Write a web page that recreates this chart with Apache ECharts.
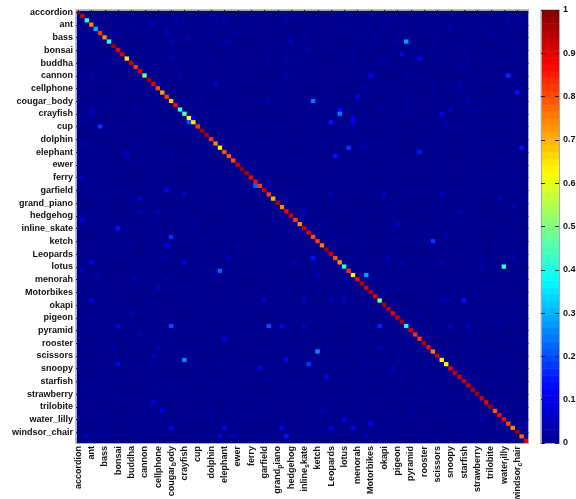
<!DOCTYPE html>
<html><head><meta charset="utf-8">
<style>html,body{margin:0;padding:0;background:#fff}#c{width:576px;height:499px;filter:blur(0.55px)}</style>
<script src="https://cdn.jsdelivr.net/npm/echarts@6/dist/echarts.min.js"></script>
</head><body><div id="c"></div>
<script>
const tickLabels = ['accordion','ant','bass','bonsai','buddha','cannon','cellphone','cougar_body','crayfish','cup','dolphin','elephant','ewer','ferry','garfield','grand_piano','hedgehog','inline_skate','ketch','Leopards','lotus','menorah','Motorbikes','okapi','pigeon','pyramid','rooster','scissors','snoopy','starfish','strawberry','trilobite','water_lilly','windsor_chair'];
const diagonal = [.98,.92,.42,.75,.3,.82,.74,.42,.97,.9,.9,.65,.93,.82,.92,.5,.97,.9,.8,.72,.82,.68,.87,.42,.47,.63,.65,.82,.97,.96,.83,.75,.64,.8,.79,.8,.92,.98,.96,.89,.87,.82,.93,.82,.7,.95,.74,.88,.92,.82,.74,
.92,.9,.8,.82,.76,.96,.92,.8,.74,.43,.83,.64,.88,.95,.92,.95,.9,.5,.96,.95,.9,.93,.97,.38,.92,.83,.83,.95,.88,.76,.94,.64,.63,.9,.93,.92,.92,.92,.95,.97,.92,.89,.96,.79,.88,.88,.81,.75,.97,.78,.9];
// [row, column, value]
const confusions = [
[54,80,.18],[62,65,.28],[60,96,.42],[58,53,.14],[80,54,.26],[83,52,.18],[74,68,.16],[68,87,.14],[96,60,.12],[97,66,.12],[98,57,.1],[98,62,.1],[86,56,.1],[84,71,.06],[68,51,.05],[68,57,.05],[68,60,.05],[68,82,.025],[68,83,.025],[71,51,.025],[74,51,.05],[74,84,.06],[74,88,.07],[79,68,.05],[58,70,.05],[59,73,.035],[59,82,.035],[60,91,.035],[58,98,.035],[57,98,.025],[55,94,.035],[52,57,.02],[53,58,.025],[55,64,.02],[52,83,.025],[53,83,.025],[60,54,.025],[62,54,.05],[94,55,.05],[94,75,.025],[96,91,.05],[97,101,.05],[100,65,.05],[83,65,.015],[83,67,.015],[83,68,.015],[72,77,.02],[65,70,.02],[65,72,.02],[65,86,.02],[73,95,.02],[80,64,.02],[80,75,.02],[85,73,.015],[88,77,.015],[97,84,.015],
[7,74,.28],[21,53,.24],[24,59,.24],[23,59,.12],[26,57,.14],[25,62,.1],[26,62,.1],[32,61,.18],[34,58,.14],[33,77,.14],[32,100,.14],[15,97,.16],[19,99,.14],[11,77,.12],[10,73,.1],[15,66,.11],[20,63,.1],[24,82,.1],[23,84,.06],[43,57,.06],[43,69,.05],[43,82,.05],[44,95,.05],[46,98,.05],[47,51,.05],[50,72,.06],[47,86,.035],[7,67,.025],[5,67,.025],[5,64,.025],[7,72,.025],[2,73,.02],[2,70,.02],[3,70,.02],[2,69,.02],[2,66,.02],[3,59,.025],[5,80,.025],[4,84,.035],[3,92,.025],[5,94,.025],[2,97,.025],[2,100,.035],[11,62,.035],[11,69,.025],[11,88,.025],[13,87,.025],[15,74,.025],[15,76,.025],[17,80,.035],[18,65,.035],[17,86,.025],[18,86,.025],[18,84,.015],[21,88,.035],[21,74,.025],[23,74,.025],[24,74,.025],[23,68,.02],[23,88,.02],[23,90,.02],[23,92,.02],[26,83,.025],[27,83,.025],[31,65,.025],[32,64,.025],[32,65,.025],[35,51,.035],[9,52,.025],[7,51,.025],
[27,5,.18],[49,1,.11],[3,17,.06],[2,22,.025],[3,22,.025],[2,16,.02],[2,19,.02],[3,24,.025],[2,31,.025],[2,33,.025],[3,33,.025],[2,47,.025],[4,20,.035],[5,20,.035],[5,8,.025],[4,12,.015],[5,36,.025],[7,21,.05],[6,25,.035],[6,30,.025],[7,33,.035],[7,34,.035],[7,48,.06],[11,21,.035],[11,30,.025],[11,43,.025],[11,47,.025],[11,49,.025],[15,1,.025],[15,3,.025],[15,23,.025],[15,47,.025],[15,49,.025],[17,31,.06],[18,29,.025],[21,28,.025],[21,43,.035],[22,7,.015],[23,3,.035],[24,3,.035],[23,13,.025],[31,1,.025],[31,2,.025],[31,13,.025],[33,11,.05],[34,11,.05],[33,19,.02],[33,21,.02],[34,21,.02],[35,14,.025],[39,1,.05],[42,20,.1],[43,24,.06],[40,43,.035],[41,43,.035],[44,14,.08],[44,12,.02],[44,5,.02],[44,47,.035],[47,14,.05],[47,18,.035],[50,26,.035],[26,25,.2],[25,26,.12],[41,40,.22],
[51,9,.14],[52,9,.025],[53,21,.17],[55,20,.12],[55,36,.035],[55,12,.02],[58,34,.05],[58,19,.02],[58,20,.02],[59,3,.12],[59,24,.11],[59,49,.05],[61,1,.05],[62,4,.035],[61,32,.22],[62,31,.025],[63,13,.05],[63,20,.035],[65,18,.05],[68,3,.1],[68,42,.06],[67,5,.015],[71,12,.035],[74,9,.12],[74,21,.2],[74,43,.2],[74,46,.1],[76,14,.035],[77,33,.1],[76,35,.015],[77,21,.015],[79,8,.035],[79,18,.05],[81,17,.05],[82,24,.26],[82,47,.13],[83,26,.02],[83,32,.015],[83,9,.11],[84,41,.1],[88,1,.015],[88,21,.015],[89,17,.015],[91,9,.015],[92,9,.015],[92,17,.1],[94,19,.1],[94,30,.015],[95,29,.015],[94,34,.015],[97,15,.015],[97,19,.015],[98,21,.11],[98,33,.1],[98,46,.1],[100,2,.05],[100,32,.08],[100,35,.06],[100,47,.14]
];
const colorbarLevels = 64;
const jet = ['#00008f','#0000ff','#0080ff','#00ffff','#80ff80','#ffff00','#ff8000','#ff0000','#800000'];

const size = tickLabels.length * 3;
const categories = [];
for (let i = 0; i < size; i++) categories.push(i % 3 === 0 ? tickLabels[i / 3] : '');
const lookup = new Map(confusions.map(c => [c[0] * size + c[1], c[2]]));
const cells = [];
for (let r = 0; r < size; r++) for (let c = 0; c < size; c++) {
  cells.push([c, r, r === c ? diagonal[r] : (lookup.get(r * size + c) || 0)]);
}
const barCats = [], barCells = [];
for (let i = 0; i < colorbarLevels; i++) { barCats.push(String(i)); barCells.push([0, i, (i + .5) / colorbarLevels]); }

const font = 'Liberation Sans';
const txt = '#111';
const fs = 9;
const frame = '#a4a8b8';
const tick = {show:true, inside:true, length:3, interval:2, alignWithLabel:true, lineStyle:{color:'#10104a', width:1}};
function sub(name){
  const k = name.indexOf('_');
  if (k < 0) return '{a|' + name + '}';
  return '{a|' + name.slice(0,k) + '}{s|' + name[k+1] + '}{a|' + name.slice(k+2) + '}';
}
const option = {
  animation:false, backgroundColor:'#fff',
  grid:[
    {left:76, top:10, width:452.5, height:433, outerBoundsMode:'none', show:true, backgroundColor:'#00008f', borderWidth:0},
    {left:541, top:10, width:18, height:433, outerBoundsMode:'none'}
  ],
  xAxis:[
    {type:'category', gridIndex:0, data:categories, position:'bottom', z:5,
      axisLine:{lineStyle:{color:frame}}, axisTick:tick,
      axisLabel:{interval:2, rotate:90, margin:3, formatter:v => sub(v), color:txt,
        rich:{a:{fontFamily:font, fontSize:fs, fontWeight:'bold', color:txt},
              s:{fontFamily:font, fontSize:7, fontWeight:'bold', color:txt, verticalAlign:'bottom', padding:[5,0,0,0]}}}},
    {type:'category', gridIndex:0, data:categories, position:'top', z:5,
      axisLine:{lineStyle:{color:frame}}, axisTick:tick, axisLabel:{show:false}},
    {type:'category', gridIndex:1, data:['bar'], z:5, axisLine:{lineStyle:{color:frame}}, axisTick:{show:false}, axisLabel:{show:false}},
    {type:'category', gridIndex:1, data:['bar'], position:'top', z:5, axisLine:{lineStyle:{color:frame}}, axisTick:{show:false}, axisLabel:{show:false}}
  ],
  yAxis:[
    {type:'category', gridIndex:0, data:categories, inverse:true, position:'left', z:5,
      axisLine:{lineStyle:{color:frame}}, axisTick:tick,
      axisLabel:{interval:2, margin:3, fontFamily:font, fontSize:fs, fontWeight:'bold', color:txt}},
    {type:'category', gridIndex:0, data:categories, inverse:true, position:'right', z:5,
      axisLine:{lineStyle:{color:frame}}, axisTick:tick, axisLabel:{show:false}},
    {type:'category', gridIndex:1, data:barCats, show:false},
    {type:'value', gridIndex:1, min:0, max:1, interval:.1, position:'right', z:5, splitLine:{show:false},
      axisLine:{show:true, lineStyle:{color:frame}}, axisTick:{show:true, inside:true, length:4, lineStyle:{color:'#222'}},
      axisLabel:{margin:4, fontFamily:font, fontSize:fs, fontWeight:'bold', color:txt}},
    {type:'value', gridIndex:1, min:0, max:1, interval:.1, position:'left', z:5, splitLine:{show:false},
      axisLine:{show:true, lineStyle:{color:frame}}, axisTick:{show:true, inside:true, length:4, lineStyle:{color:'#222'}},
      axisLabel:{show:false}}
  ],
  visualMap:{show:false, type:'continuous', min:0, max:1, seriesIndex:[0,1], inRange:{color:jet}},
  series:[
    {type:'heatmap', xAxisIndex:0, yAxisIndex:0, data:cells, progressive:0, itemStyle:{borderWidth:0}},
    {type:'heatmap', xAxisIndex:2, yAxisIndex:2, data:barCells, progressive:0},
    {type:'line', xAxisIndex:2, yAxisIndex:3, data:[], silent:true},
    {type:'line', xAxisIndex:2, yAxisIndex:4, data:[], silent:true}
  ]
};
echarts.init(document.getElementById('c'), null, {renderer:'canvas'}).setOption(option);
</script></body></html>
